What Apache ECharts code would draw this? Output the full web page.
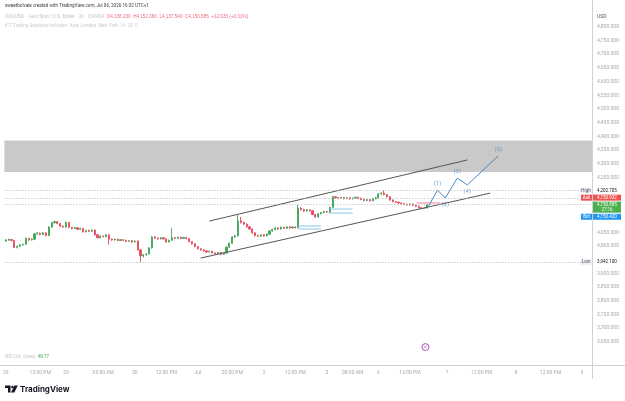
<!DOCTYPE html>
<html>
<head>
<meta charset="utf-8">
<script src="https://cdn.jsdelivr.net/npm/echarts@6/dist/echarts.min.js"></script>
<style>
  html, body { margin: 0; padding: 0; background: #fff; }
  #main { width: 625px; height: 401px; }
</style>
</head>
<body>
<div id="main"></div>
<script>
// 1h slots on the time axis (candles + empty future space)
var slotCount = 205;
var timeLabels = [[0, '26'], [12, '12:00 PM'], [21, '29'], [34, '05:00 AM'], [45, '30'], [56, '12:00 PM'],
  [67, 'Jul'], [79, '02:00 PM'], [90, '2'], [101, '12:00 PM'], [112, '3'], [121, '08:00 AM'], [130, '6'],
  [141, '12:00 PM'], [154, '7'], [166, '12:00 PM'], [178, '8'], [190, '12:00 PM'], [201, '9']];

// [open, close, low, high]
var candles = [
  [4018, 4022, 4015, 4025], [4022, 4024, 4019, 4027], [4024, 4020, 4017, 4026], [4020, 3995, 3992, 4022],
  [3995, 3999, 3991, 4002], [3999, 4004, 3996, 4007], [4004, 4006, 4001, 4009], [4006, 4028, 4004, 4031],
  [4028, 4022, 4019, 4030], [4022, 4025, 4020, 4028], [4025, 4044, 4023, 4047], [4044, 4047, 4041, 4050],
  [4047, 4042, 4039, 4049], [4042, 4048, 4040, 4051], [4048, 4038, 4035, 4050], [4038, 4069, 4036, 4072],
  [4069, 4085, 4066, 4088], [4085, 4089, 4082, 4092], [4089, 4082, 4079, 4091], [4082, 4072, 4069, 4084],
  [4072, 4069, 4066, 4075], [4069, 4086, 4067, 4089], [4086, 4068, 4065, 4088], [4068, 4064, 4061, 4070],
  [4064, 4067, 4062, 4070], [4067, 4061, 4058, 4069], [4061, 4064, 4059, 4067], [4064, 4052, 4049, 4066],
  [4052, 4057, 4050, 4059], [4057, 4054, 4051, 4059], [4054, 4058, 4052, 4061], [4058, 4041, 4038, 4060],
  [4041, 4030, 4027, 4043], [4030, 4036, 4028, 4039], [4036, 4034, 4031, 4038], [4034, 4041, 4032, 4044],
  [4041, 4025, 4005, 4043], [4025, 4022, 4019, 4027], [4022, 4025, 4020, 4027], [4025, 4020, 4017, 4026],
  [4020, 4023, 4018, 4025], [4023, 4021, 4018, 4025], [4021, 4017, 4014, 4023], [4017, 4019, 4015, 4021],
  [4019, 4015, 4012, 4021], [4015, 4018, 4013, 4020], [4018, 3986, 3983, 4020], [3986, 3964, 3942.1, 3988],
  [3964, 3968, 3958, 3971], [3968, 3971, 3965, 3974], [3971, 3993, 3969, 3996], [3993, 4033, 3991, 4036],
  [4033, 4029, 4026, 4036], [4029, 4026, 4023, 4031], [4026, 4030, 4024, 4032], [4030, 4026, 4023, 4032],
  [4026, 4015, 4012, 4028], [4015, 4021, 4013, 4023], [4021, 4030, 4019, 4066], [4030, 4028, 4025, 4033],
  [4028, 4032, 4026, 4034], [4032, 4028, 4025, 4034], [4028, 4031, 4026, 4033], [4031, 4027, 4024, 4033],
  [4027, 4016, 4013, 4029], [4016, 4008, 4005, 4018], [4008, 3998, 3995, 4010], [3998, 3990, 3987, 4000],
  [3990, 3986, 3983, 3992], [3986, 3982, 3979, 3988], [3982, 3978, 3975, 3984], [3978, 3981, 3976, 3983],
  [3981, 3975, 3972, 3983], [3975, 3972, 3969, 3977], [3972, 3976, 3970, 3978], [3976, 3970, 3966, 3978],
  [3970, 3974, 3968, 3976], [3974, 3996, 3972, 3998], [3996, 4010, 3993, 4013], [4010, 4033, 4008, 4036],
  [4033, 4037, 4030, 4040], [4037, 4092, 4035, 4113], [4092, 4086, 4082, 4106], [4086, 4080, 4076, 4089],
  [4080, 4070, 4067, 4082], [4070, 4062, 4059, 4072], [4062, 4048, 4045, 4064], [4048, 4038, 4035, 4050],
  [4038, 4036, 4033, 4041], [4036, 4041, 4034, 4043], [4041, 4037, 4034, 4043], [4037, 4043, 4035, 4045],
  [4043, 4055, 4041, 4058], [4055, 4060, 4052, 4063], [4060, 4066, 4058, 4069], [4066, 4062, 4059, 4068],
  [4062, 4068, 4060, 4071], [4068, 4065, 4062, 4070], [4065, 4070, 4063, 4072], [4070, 4066, 4063, 4072],
  [4066, 4069, 4064, 4071], [4069, 4067, 4064, 4071], [4067, 4138, 4065, 4150], [4138, 4133, 4129, 4142],
  [4133, 4128, 4125, 4136], [4128, 4132, 4126, 4134], [4132, 4129, 4126, 4134], [4129, 4115, 4112, 4131],
  [4115, 4106, 4103, 4117], [4106, 4118, 4104, 4120], [4118, 4122, 4115, 4124], [4122, 4126, 4119, 4128],
  [4126, 4124, 4121, 4128], [4124, 4141, 4122, 4143], [4141, 4180, 4139, 4183], [4180, 4176, 4173, 4182],
  [4176, 4174, 4171, 4178], [4174, 4177, 4172, 4179], [4177, 4173, 4170, 4179], [4173, 4176, 4171, 4178],
  [4176, 4172, 4169, 4178], [4172, 4175, 4170, 4177], [4175, 4178, 4173, 4180], [4178, 4174, 4171, 4180],
  [4174, 4170, 4167, 4176], [4170, 4166, 4163, 4172], [4166, 4169, 4164, 4171], [4169, 4165, 4162, 4171],
  [4165, 4172, 4163, 4174], [4172, 4176, 4170, 4179], [4176, 4190, 4174, 4193], [4190, 4193, 4187, 4196],
  [4193, 4188, 4185, 4202.705], [4188, 4180, 4177, 4190], [4180, 4168, 4165, 4182], [4168, 4162, 4159, 4170],
  [4162, 4160, 4157, 4164], [4160, 4157, 4154, 4162], [4157, 4155, 4152, 4159], [4155, 4152, 4149, 4157],
  [4152, 4150, 4147, 4154], [4150, 4153, 4148, 4155], [4153, 4149, 4146, 4155], [4149, 4145, 4142, 4151],
  [4145, 4140, 4137, 4147], [4140, 4137, 4134, 4142], [4137, 4138.23, 4135, 4141], [4138.23, 4150.885, 4137.54, 4152.06]
];

var hiddenTicks = [4850, 4200, 4150, 4100, 3950, 3600, 3550];
var supplyZone = [4385, 4270];
var channelUpper = [[71, 4091], [161, 4314]];
var channelLower = [[68, 3956], [169, 4193]];
var wavePoints = [[147.4, 4144], [150.6, 4204], [153.3, 4175], [157.5, 4248], [161, 4223], [171.8, 4329]];
var waveNames = ['', '(1)', '(2)', '(3)', '(4)', '(5)'];
var wavePlace = ['top', 'top', 'bottom', 'top', 'bottom', 'top'];
// [from, to, top, bottom]
var blueBoxes = [[102, 110, 4073, 4062], [112.6, 121, 4135, 4120]];
var entryLine = [[143.3, 4157], [151.6, 4157]];
var dottedLevels = [4202.705, 4176, 4150.885, 3942.1];
var eventMark = [146.4, 3631];

var high = 4202.705, low = 3942.1, ask = 4150.932, bid = 4150.420, last = 4150.885;

(function () {
  var myChart = echarts.init(document.getElementById('main'));
  var up = '#43a55a', down = '#e84a5f', waveColor = '#4a88c8';

  var categories = [];
  var labelAt = {};
  for (var i = 0; i < slotCount; i++) categories.push(String(i));
  timeLabels.forEach(function (t) { labelAt[t[0]] = t[1]; });

  function fmt(v) {
    return v.toLocaleString('en-US', { minimumFractionDigits: 3, maximumFractionDigits: 3 });
  }

  var segSeries = [];
  blueBoxes.forEach(function (b) {
    [b[2], b[3]].forEach(function (p) {
      segSeries.push({
        type: 'line', xAxisIndex: 1, symbol: 'none', silent: true,
        lineStyle: { color: '#8cc4ea', width: 1 },
        data: [[b[0], p], [b[1], p]]
      });
    });
  });

  var option = {
    animation: false,
    backgroundColor: '#fff',
    grid: { left: 3, right: 33, top: 13.1, bottom: 31.7 },
    xAxis: [
      {
        type: 'category',
        data: categories,
        boundaryGap: true,
        axisLine: { show: false },
        axisTick: { show: false },
        splitLine: { show: false },
        axisLabel: {
          interval: 0,
          margin: 1,
          fontSize: 5,
          color: '#a6a8b0',
          fontFamily: 'Roboto',
          formatter: function (v, idx) { return labelAt[idx] || ''; }
        }
      },
      { type: 'value', min: -0.5, max: slotCount - 0.5, show: false }
    ],
    yAxis: {
      type: 'value',
      position: 'right',
      min: 3550,
      max: 4850,
      interval: 50,
      axisLine: { show: false },
      axisTick: { show: false },
      splitLine: { show: false },
      axisLabel: {
        margin: 5,
        fontSize: 5,
        color: '#a6a8b0',
        fontFamily: 'Roboto',
        formatter: function (v) { return hiddenTicks.indexOf(v) >= 0 ? '' : fmt(v); }
      }
    },
    series: [
      {
        type: 'candlestick',
        data: candles,
        barWidth: 1.6,
        itemStyle: { color: up, color0: down, borderColor: up, borderColor0: down, borderWidth: 0.9 },
        markArea: {
          silent: true,
          itemStyle: { color: '#c9c9c9' },
          data: [[{ yAxis: supplyZone[0] }, { yAxis: supplyZone[1] }]]
        },
        markLine: {
          silent: true,
          symbol: 'none',
          label: { show: false },
          lineStyle: { color: '#b2b5be', type: [1, 2], width: 1 },
          data: dottedLevels.map(function (p) { return { yAxis: p }; })
        }
      },
      {
        type: 'line', xAxisIndex: 1, symbol: 'none', silent: true,
        lineStyle: { color: '#555', width: 1 }, data: channelUpper
      },
      {
        type: 'line', xAxisIndex: 1, symbol: 'none', silent: true,
        lineStyle: { color: '#555', width: 1 }, data: channelLower
      },
      {
        type: 'line', xAxisIndex: 1, symbol: 'none', silent: true,
        lineStyle: { color: '#f07f8f', width: 1 }, data: entryLine
      }
    ].concat(segSeries).concat([
      {
        type: 'line', xAxisIndex: 1, symbol: 'none', silent: true,
        lineStyle: { color: waveColor, width: 1 }, data: wavePoints
      },
      {
        type: 'scatter', xAxisIndex: 1, symbolSize: 1, silent: true,
        itemStyle: { color: 'rgba(0,0,0,0)' },
        data: wavePoints.map(function (p, k) {
          return {
            value: p,
            label: {
              show: waveNames[k] !== '',
              formatter: waveNames[k],
              position: wavePlace[k],
              distance: 3,
              fontSize: 6,
              color: waveColor,
              fontFamily: 'Roboto'
            }
          };
        })
      },
      {
        type: 'scatter', xAxisIndex: 1, symbol: 'circle', symbolSize: 7, silent: true,
        itemStyle: { color: '#fff', borderColor: '#9c27b0', borderWidth: 1 },
        label: { show: true, position: 'inside', formatter: 'd', fontSize: 4, color: '#9c27b0' },
        data: [eventMark]
      }
    ])
  };
  myChart.setOption(option);

  function py(p) { return myChart.convertToPixel({ yAxisIndex: 0 }, p); }

  function tag(x, y, w, h, bg, txt, color) {
    return [
      { type: 'rect', shape: { x: x, y: y - h / 2, width: w, height: h }, style: { fill: bg }, silent: true },
      { type: 'text', style: { text: txt, x: x + w / 2, y: y, align: 'center', verticalAlign: 'middle',
        fill: color, fontSize: 4.5, fontFamily: 'Roboto' }, silent: true }
    ];
  }

  var g = [
    { type: 'line', shape: { x1: 0, y1: 365.5, x2: 625, y2: 365.5 }, style: { stroke: '#cfd1d6', lineWidth: 1.2 }, silent: true },
    { type: 'line', shape: { x1: 592.5, y1: 0, x2: 592.5, y2: 379 }, style: { stroke: '#cfd1d6', lineWidth: 1 }, silent: true },
    { type: 'text', style: { text: 'sweetbolvale created with TradingView.com, Jul 06, 2026 16:32 UTC+1', x: 5, y: 6,
      verticalAlign: 'middle', fill: '#3a3d46', fontSize: 4.6, fontFamily: 'Roboto' }, silent: true },
    { type: 'text', style: { text: '{g|XAUUSD · Gold Spot / U.S. Dollar · 1h · OANDA}  {r|O4,138.230  H4,152.060  L4,137.540  C4,150.885  +12.635 (+0.31%)}',
      x: 5, y: 17, verticalAlign: 'middle', fontSize: 4.6, fontFamily: 'Roboto',
      rich: { g: { fill: '#c0c2c9', fontSize: 4.6 }, r: { fill: '#ef6a7e', fontSize: 4.6 } } }, silent: true },
    { type: 'text', style: { text: 'ICT Trading Sessions Indicator  Asia  London  New York  14  20  0', x: 5, y: 26,
      verticalAlign: 'middle', fill: '#c8cad0', fontSize: 4.6, fontFamily: 'Roboto' }, silent: true },
    { type: 'text', style: { text: '{g|RSI (14, close)}  {v|48.77}', x: 5, y: 357, verticalAlign: 'middle',
      fontSize: 4.6, fontFamily: 'Roboto', rich: { g: { fill: '#c0c2c9', fontSize: 4.6 }, v: { fill: '#4caf50', fontSize: 4.6 } } }, silent: true },
    { type: 'text', style: { text: 'USD', x: 597, y: 17, verticalAlign: 'middle', fill: '#50535e', fontSize: 5, fontFamily: 'Roboto' }, silent: true },
    // TradingView logo
    { type: 'polygon', shape: { points: [[5, 385.5], [10.5, 385.5], [10.5, 392.5], [8, 392.5], [8, 388], [5, 388]] }, style: { fill: '#131722' }, silent: true },
    { type: 'circle', shape: { cx: 12.4, cy: 387, r: 1.3 }, style: { fill: '#131722' }, silent: true },
    { type: 'polygon', shape: { points: [[14.5, 385.5], [17.8, 385.5], [14.3, 392.5], [11, 392.5]] }, style: { fill: '#131722' }, silent: true },
    { type: 'text', style: { text: 'TradingView', x: 20, y: 389.5, verticalAlign: 'middle', fill: '#131722',
      fontSize: 8, fontWeight: 'bold', fontFamily: 'Inter' }, silent: true }
  ];

  var yH = py(high), yA = py(ask) - 7, yL = py(last) + 2, yB = py(bid) + 12, yLo = py(low);
  g = g.concat(tag(580, yH, 12, 6, '#eef0f4', 'High', '#50535e'));
  g = g.concat(tag(593, yH, 28, 6, '#ffffff', fmt(high), '#131722'));
  g = g.concat(tag(581, yA, 11, 6, '#ef5350', 'Ask', '#fff'));
  g = g.concat(tag(593, yA, 28, 6, '#ef5350', fmt(ask), '#fff'));
  g.push({ type: 'rect', shape: { x: 593, y: yL - 5, width: 28, height: 11 }, style: { fill: '#4caf50' }, silent: true });
  g.push({ type: 'text', style: { text: fmt(last) + '\n27:16', x: 607, y: yL + 0.5, align: 'center', verticalAlign: 'middle',
    fill: '#fff', fontSize: 4.5, lineHeight: 5, fontFamily: 'Roboto' }, silent: true });
  g = g.concat(tag(581, yB, 11, 6, '#2196f3', 'Bid', '#fff'));
  g = g.concat(tag(593, yB, 28, 6, '#2196f3', fmt(bid), '#fff'));
  g = g.concat(tag(580, yLo, 12, 6, '#eef0f4', 'Low', '#50535e'));
  g = g.concat(tag(593, yLo, 28, 6, '#ffffff', fmt(low), '#131722'));

  myChart.setOption({ graphic: g });

  window.addEventListener('resize', function () {
    myChart.resize();
  });
})();
</script>
</body>
</html>
